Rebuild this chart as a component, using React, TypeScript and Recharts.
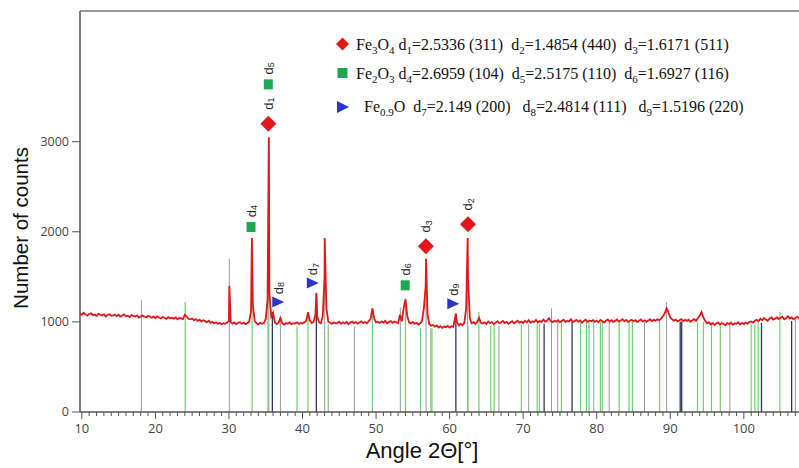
import React from "react";
import { ComposedChart, Line, Scatter, XAxis, YAxis, ReferenceLine } from "recharts";

// diffractogram: counts every 0.25° from 9.75° to 107.5°
const scanStart = 9.75;
const scanStep = 0.25;
const scanCounts = [
  1092, 1078, 1101, 1083, 1069, 1088, 1095, 1074, 1081, 1066, 1090, 1079, 1072, 1086, 1061, 1077, 1084, 1068, 1073, 1080,
  1065, 1079, 1058, 1071, 1083, 1062, 1069, 1054, 1075, 1066, 1059, 1072, 1048, 1063, 1070, 1057, 1051, 1066, 1060, 1047,
  1058, 1043, 1061, 1049, 1038, 1055, 1046, 1033, 1052, 1041, 1047, 1036, 1050, 1029, 1044, 1039, 1031, 1079, 1058, 1035,
  1028, 1037, 1019, 1031, 1012, 1024, 1006, 1018, 1009, 995, 1013, 990, 1001, 983, 996, 978, 990, 972, 985, 979,
  992, 1010, 998, 981, 994, 976, 989, 997, 980, 991, 974, 986, 1002, 1120, 1190, 1010, 985, 972, 990, 978,
  986, 1030, 1250, 1320, 1060, 1100, 990, 975, 992, 1045, 985, 970, 988, 979, 993, 974, 986, 981, 995, 977,
  989, 982, 996, 1010, 1105, 1015, 988, 1000, 1080, 1060, 995, 985, 1060, 1500, 1150, 1005, 990, 978, 993, 984,
  987, 1001, 979, 995, 983, 998, 975, 992, 1004, 986, 997, 980, 993, 1006, 988, 999, 984, 1010, 1030, 1150,
  1035, 995, 1002, 988, 1006, 993, 1011, 985, 999, 1008, 990, 1003, 996, 985, 1080, 1005, 1150, 1250, 1060, 992,
  985, 999, 978, 990, 971, 984, 1010, 1150, 1400, 1080, 975, 958, 966, 947, 961, 938, 952, 933, 948, 941,
  956, 937, 951, 944, 1050, 1000, 962, 978, 965, 990, 1150, 1500, 1040, 985, 997, 979, 1000, 1045, 990, 982,
  995, 978, 1003, 986, 999, 974, 992, 1007, 983, 996, 1011, 988, 1001, 979, 994, 1008, 985, 998, 1013, 990,
  1004, 987, 1012, 995, 1018, 990, 1006, 999, 1021, 993, 1009, 1000, 1025, 1002, 1015, 1040, 1008, 997, 1013, 1003,
  1018, 995, 1010, 1024, 999, 1013, 1005, 1028, 996, 1011, 1020, 1002, 1016, 991, 1009, 1023, 1000, 1014, 1006, 1019,
  1001, 1015, 996, 1022, 1008, 993, 1012, 1026, 1004, 1018, 999, 1011, 1027, 1003, 1016, 1030, 1008, 1021, 1000, 1013,
  1024, 1006, 1019, 998, 1012, 1027, 1005, 1017, 1001, 1014, 1029, 1009, 1022, 1012, 1028, 1018, 1035, 1062, 1095, 1150,
  1105, 1048, 1030, 1014, 1026, 1005, 1019, 1031, 1008, 1022, 1011, 1025, 1002, 1017, 1030, 1012, 1040, 1070, 1110, 1050,
  1010, 985, 996, 972, 988, 965, 981, 994, 970, 986, 977, 963, 989, 975, 992, 968, 984, 979, 995, 971,
  987, 976, 993, 981, 998, 1005, 991, 1012, 1024, 1008, 1035, 1019, 1042, 1027, 1013, 1038, 1049, 1025, 1036, 1052,
  1031, 1046, 1058, 1029, 1041, 1063, 1037, 1050, 1028, 1044, 1057, 1039,
];

// sharp peak tops that fall between scan steps [angle, counts]
const peakTops = [
  [30.05, 1400], [33.12, 1930], [35.42, 3050], [41.9, 1320],
  [43.02, 1930], [56.8, 1700], [60.85, 1090], [62.45, 1930],
];

// reference pattern sticks [angle, height]
const grayLines = [
  [18.1, 1240], [30.05, 1700], [35.42, 3050], [37.0, 1040], [43.02, 1930], [47.05, 950],
  [53.3, 1160], [56.8, 1700], [62.45, 1930], [66.7, 960], [70.75, 970], [73.85, 1150],
  [74.7, 1000], [79.6, 1000], [81.7, 1000], [86.5, 1000], [89.5, 1220], [98.1, 975], [107.0, 1030],
];
const greenLines = [
  [24.05, 1220], [33.15, 1850], [35.3, 1500], [39.25, 950], [40.75, 1110], [43.5, 970],
  [49.5, 1150], [54.0, 1260], [56.05, 930], [57.45, 930], [57.6, 930], [62.5, 960],
  [63.98, 1110], [65.6, 960], [66.05, 960], [69.75, 970], [71.9, 975], [72.2, 975],
  [75.2, 995], [77.8, 995], [78.6, 995], [78.95, 995], [80.5, 1000], [80.75, 1000],
  [83.05, 1000], [84.4, 1000], [84.85, 1000], [88.55, 1010], [93.7, 1000], [94.5, 1000],
  [95.6, 970], [96.8, 970], [101.0, 975], [101.5, 975], [101.95, 990], [104.9, 1110],
];
const darkLines = [
  [35.9, 1110], [41.88, 1320], [60.85, 1090], [72.85, 980], [76.65, 995],
  [91.35, 1005], [91.55, 1005], [102.4, 990], [106.5, 1010],
];

// peak markers
const fe3o4Marks = [
  { angle: 35.35, counts: 3200, label: "1" },
  { angle: 62.5, counts: 2083, label: "2" },
  { angle: 56.77, counts: 1839, label: "3" },
];
const fe2o3Marks = [
  { angle: 33.0, counts: 2053, label: "4" },
  { angle: 35.35, counts: 3636, label: "5" },
  { angle: 53.96, counts: 1406, label: "6" },
];
const feoMarks = [
  { angle: 41.4, counts: 1431, label: "7" },
  { angle: 36.7, counts: 1220, label: "8" },
  { angle: 60.5, counts: 1202, label: "9" },
];

const majorTicks = [10, 20, 30, 40, 50, 60, 70, 80, 90, 100];
const countTicks = [0, 1000, 2000, 3000];

const RED = "#e3161b";
const GREEN = "#1fa651";
const BLUE = "#2a36c8";

const pattern = [
  ...scanCounts.map((c, i) => ({ angle: scanStart + i * scanStep, counts: c })),
  ...peakTops.map(([a, c]) => ({ angle: a, counts: c })),
].sort((a, b) => a.angle - b.angle);

const minorTicks: number[] = [];
for (let t = 10; t <= 107; t++) minorTicks.push(t);

function AngleTick({ x, y, payload }: any) {
  const major = majorTicks.includes(payload.value);
  return (
    <g>
      <line x1={x} x2={x} y1={y} y2={y + (major ? 7 : 4)} stroke="#555" strokeWidth={1} />
      {major && (
        <text x={x} y={y + 21} textAnchor="middle" fontSize={13} fill="#444" fontFamily="'Open Sans', sans-serif">
          {payload.value}
        </text>
      )}
    </g>
  );
}

function markShape(kind: string) {
  return (props: any) => {
    const { cx, cy, payload } = props;
    let mark;
    let gap;
    if (kind === "diamond") {
      mark = <polygon points={`${cx},${cy - 8} ${cx + 8},${cy} ${cx},${cy + 8} ${cx - 8},${cy}`} fill={RED} />;
      gap = 20;
    } else if (kind === "square") {
      mark = <rect x={cx - 4.5} y={cy - 5} width={9} height={10} fill={GREEN} />;
      gap = 16;
    } else {
      mark = <polygon points={`${cx - 6},${cy - 5.5} ${cx + 6},${cy} ${cx - 6},${cy + 5.5}`} fill={BLUE} />;
      gap = 14;
    }
    const ly = cy - gap;
    return (
      <g>
        {mark}
        <text
          x={cx}
          y={ly}
          transform={`rotate(-90 ${cx} ${ly})`}
          textAnchor="middle"
          dominantBaseline="central"
          fontSize={13}
          fill="#222"
          fontFamily="'Liberation Sans', Arial, sans-serif"
        >
          d<tspan fontSize={9} dy={3}>{payload.label}</tspan>
        </text>
      </g>
    );
  };
}

function Sub({ children }: { children: string }) {
  return <tspan fontSize={11} baselineShift="-4">{children}</tspan>;
}

function Legend() {
  const font = { fontFamily: "'Liberation Serif', 'Times New Roman', serif", fontSize: 16, fill: "#111", whiteSpace: "pre" } as any;
  return (
    <svg width={799} height={468} style={{ position: "absolute", left: 0, top: 0, pointerEvents: "none" }}>
      <line x1={80} x2={799} y1={11} y2={11} stroke="#777" strokeWidth={1.5} />
      <polygon points="342.5,37.5 349,44 342.5,50.5 336,44" fill={RED} />
      <text x={356} y={49.5} style={font}>
        Fe<Sub>3</Sub>O<Sub>4</Sub> d<Sub>1</Sub>=2.5336 (311)  d<Sub>2</Sub>=1.4854 (440)  d<Sub>3</Sub>=1.6171 (511)
      </text>
      <rect x={337.5} y={68} width={10} height={10} fill={GREEN} />
      <text x={356} y={78.5} style={font}>
        Fe<Sub>2</Sub>O<Sub>3</Sub> d<Sub>4</Sub>=2.6959 (104)  d<Sub>5</Sub>=2.5175 (110)  d<Sub>6</Sub>=1.6927 (116)
      </text>
      <polygon points="337,101 349,107 337,113" fill={BLUE} />
      <text x={364} y={112} style={font}>
        Fe<Sub>0.9</Sub>O  d<Sub>7</Sub>=2.149 (200)   d<Sub>8</Sub>=2.4814 (111)   d<Sub>9</Sub>=1.5196 (220)
      </text>
      <text
        x={28}
        y={228}
        transform="rotate(-90 28 228)"
        textAnchor="middle"
        fontSize={20.5}
        fill="#111"
        fontFamily="'Liberation Sans', Arial, sans-serif"
      >
        Number of counts
      </text>
      <text x={422} y={458} textAnchor="middle" fontSize={22} fill="#111" fontFamily="'Liberation Sans', Arial, sans-serif">
        Angle 2Θ[°]
      </text>
    </svg>
  );
}

export default function App() {
  return (
    <div style={{ position: "absolute", left: 0, top: 0, width: 799, height: 468, background: "#fff" }}>
      <ComposedChart width={799} height={468} data={pattern} margin={{ top: 11, right: 0, bottom: 0, left: 0 }}>
        <XAxis
          type="number"
          dataKey="angle"
          domain={[9.75, 107.5]}
          ticks={minorTicks}
          interval={0}
          tick={<AngleTick />}
          tickLine={false}
          tickSize={0}
          tickMargin={0}
          height={56}
          axisLine={{ stroke: "#555", strokeWidth: 1.5 }}
          allowDataOverflow
        />
        <YAxis
          type="number"
          dataKey="counts"
          domain={[0, 4450]}
          ticks={countTicks}
          width={80}
          tickSize={8}
          tickMargin={3}
          tickLine={{ stroke: "#555" }}
          axisLine={{ stroke: "#555", strokeWidth: 1.5 }}
          tick={{ fontSize: 12.5, fill: "#444", fontFamily: "'Open Sans', sans-serif" }}
          allowDataOverflow
        />
        {grayLines.map(([a, h]) => (
          <ReferenceLine key={`g${a}`} segment={[{ x: a, y: 0 }, { x: a, y: h }]} stroke="#9a9a9a" strokeWidth={1} />
        ))}
        {greenLines.map(([a, h]) => (
          <ReferenceLine key={`n${a}`} segment={[{ x: a, y: 0 }, { x: a, y: h }]} stroke="#6fcf6f" strokeWidth={1.2} />
        ))}
        {darkLines.map(([a, h]) => (
          <ReferenceLine key={`d${a}`} segment={[{ x: a, y: 0 }, { x: a, y: h }]} stroke="#2f3a5a" strokeWidth={1.3} />
        ))}
        <Line
          type="linear"
          dataKey="counts"
          stroke={RED}
          strokeWidth={1.8}
          dot={false}
          isAnimationActive={false}
        />
        <Scatter data={fe3o4Marks} dataKey="counts" shape={markShape("diamond")} isAnimationActive={false} />
        <Scatter data={fe2o3Marks} dataKey="counts" shape={markShape("square")} isAnimationActive={false} />
        <Scatter data={feoMarks} dataKey="counts" shape={markShape("triangle")} isAnimationActive={false} />
      </ComposedChart>
      <Legend />
    </div>
  );
}
